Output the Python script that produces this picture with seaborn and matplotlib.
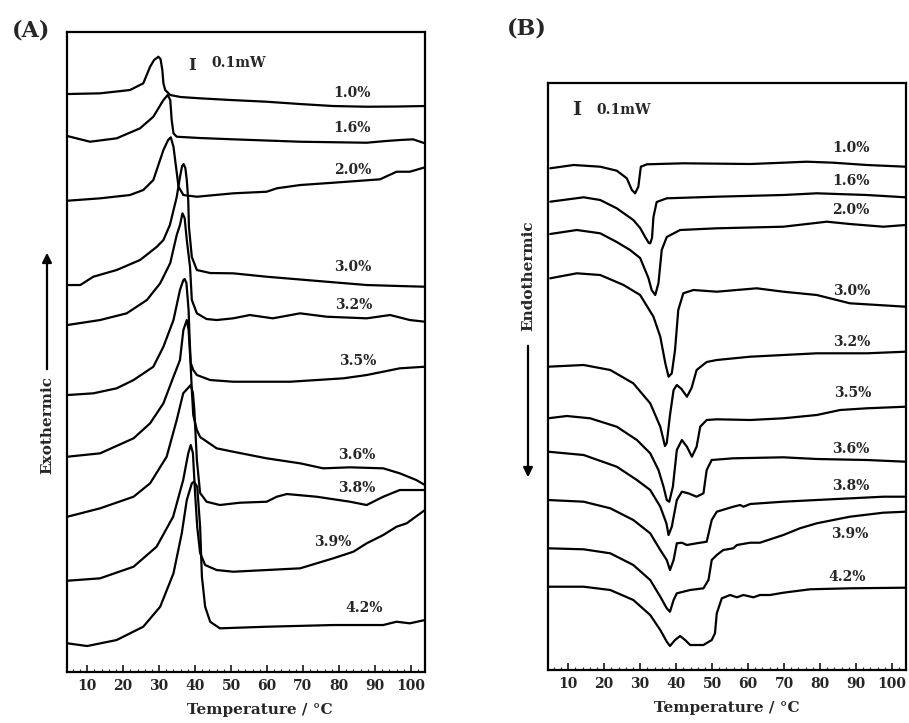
import seaborn as sns
import matplotlib.pyplot as plt
import pandas as pd

conc = ['1.0%', '1.6%', '2.0%', '3.0%', '3.2%', '3.5%', '3.6%', '3.8%', '3.9%', '4.2%']

# (A) cooling scans, exothermic up; temperature in C, signal in arbitrary units
a10_t = [4.5, 13.6, 21.9, 25.6, 27.5, 28.6, 29.8, 30.4, 30.9, 31.2, 31.7, 33.1, 36, 41.4, 50, 59.9, 69.2, 78.4, 87.7, 96, 103.9]
a10_h = [578, 578.7, 582, 588.7, 605.3, 612, 615.3, 613, 602, 588.7, 582, 577, 575, 573.7, 572, 570.3, 568, 566, 565.3, 565.5, 566]
a16_t = [4.5, 10.8, 18.2, 24.7, 28.4, 31.2, 32.4, 33.1, 33.5, 34.0, 34.9, 41.4, 50.6, 69.2, 87.7, 93, 96.9, 100.6, 103.9]
a16_h = [536, 530.3, 533.7, 543.7, 555.3, 572, 577, 572, 552, 538.7, 535.3, 534, 532.7, 530.3, 529.3, 531, 532, 532.7, 528.7]
a20_t = [4.5, 13.6, 21.9, 25.6, 28.4, 31.2, 32.5, 33.25, 34.0, 34.7, 35.4, 36.75, 40.5, 50.6, 59.9, 62.7, 69.2, 78.4, 91.4, 96, 99.7, 103.9]
a20_h = [471.3, 473.7, 477, 482, 492, 522, 532, 534.7, 525.3, 505.3, 485.3, 477, 475.3, 478.7, 480.3, 483.7, 487, 489.3, 492.7, 500.3, 500.3, 504.7]
a30_t = [4.5, 8.1, 11.7, 18.2, 24.7, 29.3, 31.2, 33.0, 34.9, 35.8, 36.4, 36.8, 37.3, 37.7, 38.1, 38.3, 39.1, 40.5, 44.2, 50.6, 59.9, 76.6, 87.7, 96.9, 103.9]
a30_h = [387, 387, 395.3, 402, 412, 425, 432, 447, 475, 495, 506, 508, 504, 492, 472, 445, 415, 402, 399, 398.7, 395.3, 390.3, 387, 386, 385.3]
a32_t = [4.5, 13.6, 21.0, 26.6, 30.3, 33.1, 34.9, 35.8, 36.5, 37.1, 37.7, 38.6, 39.1, 40.5, 43.2, 46.0, 50.6, 55.2, 61.6, 69.2, 76.6, 87.7, 94.2, 99.7, 103.9]
a32_h = [347, 352, 358.7, 372, 388.7, 409, 437, 447, 458.7, 454, 432, 405, 372, 358.7, 353, 352, 353.7, 357, 353.7, 358.7, 355.3, 353.7, 357, 352, 350.3]
a35_t = [4.5, 11.7, 18.2, 22.9, 28.4, 31.2, 34.0, 35.8, 36.75, 37.1, 37.6, 38.2, 38.5, 38.8, 39.5, 40.5, 44.2, 50.6, 59.9, 66.4, 73.8, 81.2, 87.7, 96.9, 103.9]
a35_h = [277, 278.7, 283.7, 292, 305.3, 325.3, 352, 382, 392, 393, 389, 362, 332, 309, 302, 297, 292, 290.3, 290.3, 290.3, 292, 293.7, 297, 303.7, 305.3]
a36_t = [4.5, 13.6, 22.9, 27.5, 31.2, 34.0, 35.8, 36.75, 37.7, 38.2, 38.7, 39.1, 39.5, 40.5, 41.4, 46.0, 50.6, 59.9, 69.2, 75.6, 83.1, 92.3, 96.9, 101.5, 103.9]
a36_h = [215.3, 218.7, 233.7, 248.7, 268.7, 295.3, 312, 342, 352, 342, 312, 282, 257, 242, 235, 223.7, 220.3, 213.7, 208.7, 203.7, 204.7, 203.7, 198.7, 192, 187]
a38_t = [4.5, 13.6, 22.9, 27.5, 32.1, 34.9, 36.7, 38.8, 39.4, 39.8, 40.5, 41.4, 43.2, 46.9, 52.4, 59.9, 62.7, 65.5, 73.8, 83.1, 87.7, 92.3, 96.9, 103.9]
a38_h = [155.3, 163.7, 175.3, 188.7, 215.3, 252, 278.7, 287, 279, 262, 212, 179, 170.3, 167, 169.3, 170.3, 175.3, 178, 175.3, 170.3, 167, 175.3, 182, 182]
a39_t = [4.5, 13.6, 22.9, 29.3, 33.9, 36.7, 38.1, 38.8, 39.4, 40.0, 40.6, 41.4, 42.8, 46.0, 50.6, 59.9, 69.2, 73.8, 78.4, 84, 87.7, 92.3, 96, 98.8, 103.9]
a39_h = [91.3, 93.7, 105.3, 125.3, 155.3, 192, 218.7, 227, 219, 179, 145, 119, 107, 102, 100.3, 102, 103.7, 108.7, 113.7, 120.3, 128.7, 137, 145.3, 148.7, 162]
a42_t = [4.5, 10.0, 18.2, 25.6, 30.3, 34.0, 36.3, 37.7, 39.1, 39.7, 40.6, 41.4, 41.9, 42.8, 44.2, 46.9, 59.9, 78.4, 92.3, 96, 99.7, 103.9]
a42_h = [28.7, 26, 32, 45.3, 65.3, 98.7, 138.7, 172, 188.7, 190.3, 185.3, 145.3, 95.3, 65.3, 50.3, 43.7, 45.3, 47, 47, 50.3, 48.7, 52]

# (B) heating scans, endothermic down
b10_t = [5.0, 11.5, 18.9, 23.5, 26.3, 27.7, 28.6, 29.5, 30.2, 31.9, 42.0, 60.6, 69.8, 76.3, 83.7, 93.0, 103.8]
b10_h = [501.7, 505, 503.3, 499.3, 491.7, 480, 476.7, 483.3, 503.3, 505.7, 506.7, 506, 507.3, 508.3, 507.3, 505, 503.3]
b16_t = [5.0, 14.3, 18.9, 23.5, 28.1, 30.0, 31.4, 32.4, 32.8, 33.3, 33.7, 34.6, 37.4, 51.3, 69.8, 79.1, 93.0, 103.8]
b16_h = [468.3, 472.7, 470, 461.7, 450, 442, 433, 427, 426.7, 432, 453, 468, 471.7, 473.3, 475, 476.7, 475, 472.7]
b20_t = [5.0, 12.4, 18.9, 23.5, 27.2, 30.0, 32.3, 33.2, 34.2, 35.1, 36.0, 37.4, 41.1, 51.3, 69.8, 81.9, 88.3, 97.6, 103.8]
b20_h = [436, 440, 436.7, 428, 420, 412, 392, 380, 375, 387, 420, 433, 440, 441.7, 443.3, 448.3, 446, 443.3, 445]
b30_t = [5.0, 12.4, 18.9, 25.4, 30.0, 33.7, 35.6, 37.0, 37.9, 38.8, 39.7, 40.6, 42.0, 44.8, 51.3, 62.4, 69.8, 79.1, 88.3, 103.8]
b30_h = [391.7, 396.7, 395, 385, 375, 353.3, 333.3, 306.7, 293.3, 296.7, 320, 360, 376.7, 380, 378.3, 381.7, 378.3, 375, 366.7, 363.3]
b32_t = [4.4, 14.3, 21.7, 28.1, 32.8, 35.6, 36.5, 36.9, 37.4, 38.3, 39.3, 40.2, 41.5, 43.0, 44.3, 45.7, 48.5, 51.3, 60.6, 69.8, 79.1, 93.0, 103.8]
b32_h = [303.3, 305, 300, 286.7, 266.7, 243.3, 230, 224, 227, 255, 280, 285, 281, 273.3, 282, 300, 308, 310, 313.3, 315, 316.7, 316.7, 318.3]
b35_t = [4.4, 9.6, 16.1, 23.5, 29.1, 32.8, 35.1, 36.5, 37.4, 38.1, 39.1, 40.2, 41.6, 43.0, 44.4, 45.7, 46.7, 48.5, 51.3, 60.6, 69.8, 79.1, 85.6, 93.0, 103.8]
b35_h = [251.7, 254, 251.7, 243.3, 230, 216.7, 200, 183.3, 170, 168.3, 183.3, 220, 230, 223.3, 213.3, 223.3, 243.3, 250, 250.7, 250, 251.7, 255, 260, 261.7, 263.3]
b36_t = [4.4, 14.3, 23.5, 29.1, 32.8, 35.6, 37.3, 37.9, 38.8, 40.2, 41.6, 43.4, 45.7, 47.6, 48.5, 49.9, 55.9, 69.8, 79.1, 93.0, 103.8]
b36_h = [218.3, 215, 203.3, 190, 180, 163.3, 146.7, 135, 143.3, 170, 178.3, 176.7, 173.3, 176.7, 200, 210, 211.7, 212.7, 211, 210, 208.3]
b38_t = [4.4, 14.3, 21.7, 28.1, 32.8, 35.6, 37.4, 38.3, 39.3, 40.2, 41.6, 43.0, 45.7, 48.5, 49.9, 51.3, 55.9, 57.8, 58.7, 60.6, 69.8, 79.1, 97.6, 103.8]
b38_h = [170, 168.3, 161.7, 150, 136.7, 120, 110, 100, 110, 126.7, 127.3, 125, 126.7, 128.3, 150, 158.3, 163.3, 165, 163.3, 166, 168.3, 170, 173.3, 173.3]
b39_t = [4.4, 14.3, 21.7, 28.1, 32.8, 35.6, 37.4, 38.3, 39.3, 40.2, 42.0, 43.9, 47.6, 49.0, 49.9, 51.3, 53.1, 55.9, 56.9, 60.6, 63.3, 69.8, 74.4, 79.1, 88.3, 97.6, 103.8]
b39_h = [121.7, 120.7, 116.7, 105, 90, 73.3, 61.7, 58.3, 70, 76.7, 78.3, 80, 81.7, 90, 110, 115, 120, 121.7, 125, 127.3, 127.3, 135, 141.7, 146.7, 153.3, 157.3, 158.3]
b42_t = [4.4, 14.3, 21.7, 28.1, 32.8, 35.6, 37.4, 38.3, 39.7, 41.1, 42.5, 43.9, 47.6, 49.9, 50.8, 51.3, 52.7, 55.0, 56.9, 58.7, 61.5, 63.3, 66.1, 69.8, 77.2, 88.3, 103.8]
b42_h = [83.3, 83.3, 80, 70, 55, 40, 28.3, 24, 30, 34, 30, 25, 25, 30, 36.7, 56.7, 71.7, 75, 72.7, 75, 72.7, 75, 75, 77.3, 80.7, 81.7, 82.3]

# where the sample labels sit (T, signal)
a_lab_t = [83.7, 83.7, 83.7, 83.7, 84.2, 85.1, 84.9, 84.9, 78.4, 86.9]
a_lab_h = [579.3, 543.7, 502, 405.3, 367, 311, 217, 183.7, 130.3, 63.7]
b_lab_t = [88.6, 88.6, 88.6, 88.8, 88.8, 89.2, 88.6, 88.6, 88.2, 87.6]
b_lab_h = [522, 489, 460, 379.3, 328.3, 276.7, 220.7, 184, 135.7, 93.3]


def long_table(ts, hs):
    parts = [pd.DataFrame({'T': t, 'h': h, 'conc': c}) for c, t, h in zip(conc, ts, hs)]
    return pd.concat(parts, ignore_index=True)


dfa = long_table([a10_t, a16_t, a20_t, a30_t, a32_t, a35_t, a36_t, a38_t, a39_t, a42_t],
                 [a10_h, a16_h, a20_h, a30_h, a32_h, a35_h, a36_h, a38_h, a39_h, a42_h])
dfb = long_table([b10_t, b16_t, b20_t, b30_t, b32_t, b35_t, b36_t, b38_t, b39_t, b42_t],
                 [b10_h, b16_h, b20_h, b30_h, b32_h, b35_h, b36_h, b38_h, b39_h, b42_h])

sns.set_style('ticks')
plt.rcParams['font.family'] = ['DejaVu Serif']
plt.rcParams['font.weight'] = 'bold'

fig = plt.figure(figsize=(9.09, 7.23), dpi=100)
axA = fig.add_axes([0.0737, 0.0705, 0.3938, 0.8852])
axB = fig.add_axes([0.6029, 0.0733, 0.3938, 0.8119])

for ax, df, ytop, lt, lh in ((axA, dfa, 640, a_lab_t, a_lab_h), (axB, dfb, 587, b_lab_t, b_lab_h)):
    sns.lineplot(data=df, x='T', y='h', units='conc', estimator=None, sort=False,
                 color='black', lw=1.6, ax=ax, legend=False)
    for c, x, y in zip(conc, lt, lh):
        ax.text(x, y, c, ha='center', va='center', fontsize=10, fontweight='bold')
    ax.set_xlim(4.4, 103.9)
    ax.set_ylim(0, ytop)
    ax.set_xticks(range(10, 101, 10))
    ax.set_xticks(range(6, 104, 2), minor=True)
    ax.set_yticks([])
    ax.tick_params(axis='x', which='major', direction='in', length=5, width=1.3, labelsize=10, pad=5)
    ax.tick_params(axis='x', which='minor', direction='in', length=2, width=0.8)
    for lab in ax.get_xticklabels():
        lab.set_fontweight('bold')
    for s in ax.spines.values():
        s.set_linewidth(1.6)
        s.set_color('black')
    ax.set_ylabel('')
    ax.set_xlabel('Temperature / °C', fontsize=11, fontweight='bold', labelpad=7)

axA.xaxis.label.set_x(0.54)

# 0.1 mW scale marks
axA.text(39.1, 607, 'I', ha='center', va='center', fontsize=12, fontweight='bold')
axA.text(44.6, 609, '0.1mW', ha='left', va='center', fontsize=10, fontweight='bold')
axB.text(12.4, 560, 'I', ha='center', va='center', fontsize=14, fontweight='bold')
axB.text(17.7, 560, '0.1mW', ha='left', va='center', fontsize=10, fontweight='bold')

# panel letters and direction arrows
fig.text(31 / 909, 1 - 31 / 723, '(A)', ha='center', va='center', fontsize=16, fontweight='bold')
fig.text(527 / 909, 1 - 28 / 723, '(B)', ha='center', va='center', fontsize=16, fontweight='bold')
fig.text(47 / 909, 1 - 425 / 723, 'Exothermic', rotation=90, ha='center', va='center', fontsize=11, fontweight='bold')
fig.text(528 / 909, 1 - 276 / 723, 'Endothermic', rotation=90, ha='center', va='center', fontsize=11, fontweight='bold')
axA.annotate('', xy=(47 / 909, 1 - 250 / 723), xytext=(47 / 909, 1 - 372 / 723), xycoords='figure fraction',
             arrowprops=dict(arrowstyle='-|>', color='black', lw=1.6, mutation_scale=14), annotation_clip=False)
axB.annotate('', xy=(528 / 909, 1 - 480 / 723), xytext=(528 / 909, 1 - 343 / 723), xycoords='figure fraction',
             arrowprops=dict(arrowstyle='-|>', color='black', lw=1.6, mutation_scale=14), annotation_clip=False)

fig.savefig('out.png', dpi=100)
